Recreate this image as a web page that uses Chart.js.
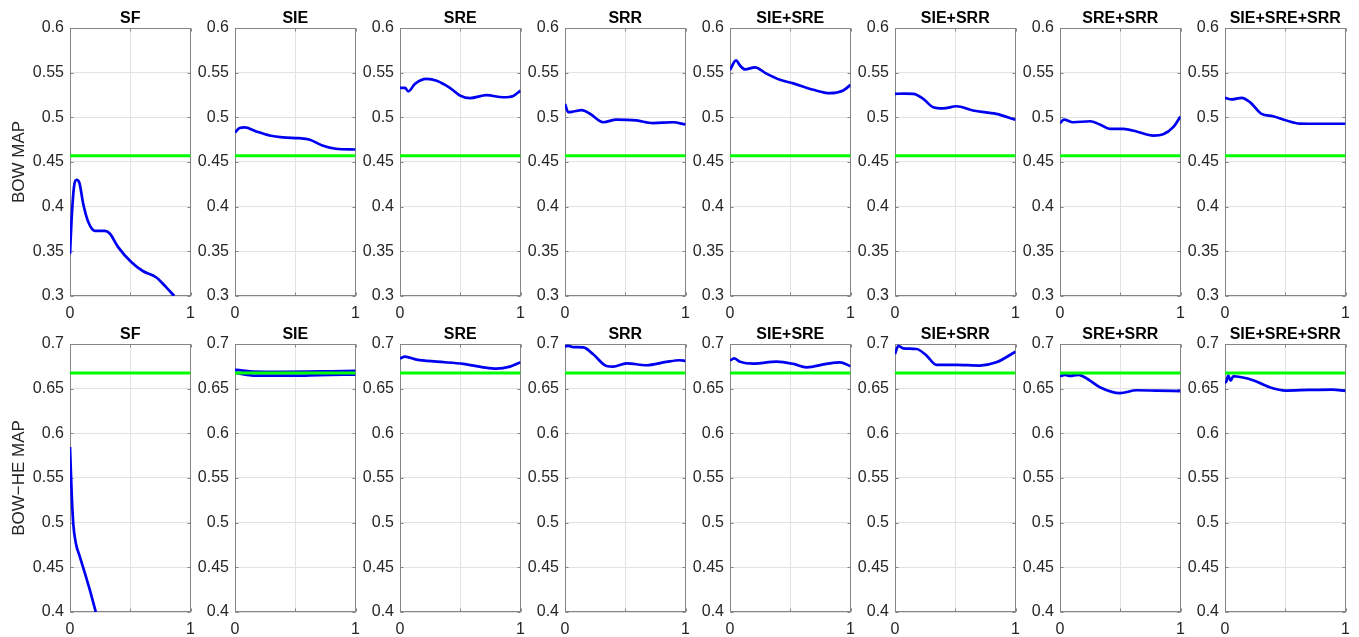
<!DOCTYPE html>
<html>
<head>
<meta charset="utf-8">
<script src="https://cdn.jsdelivr.net/npm/chart.js@4.4.1/dist/chart.umd.min.js"></script>
<style>
  html, body { margin:0; padding:0; background:#fff; }
  body { width:1359px; height:637px; position:relative; overflow:hidden; }
  canvas { position:absolute; }
</style>
</head>
<body>
<script>
// ---------- DATA ----------
const titles = ['SF','SIE','SRE','SRR','SIE+SRE','SIE+SRR','SRE+SRR','SIE+SRE+SRR'];
const rowLabels = ['BOW MAP','BOW\u2212HE MAP'];
const xTicks = [0, 0.5, 1];
const xTickLabels = ['0', '', '1'];
const yTicksTop = [0.3, 0.35, 0.4, 0.45, 0.5, 0.55, 0.6];
const yTicksBottom = [0.4, 0.45, 0.5, 0.55, 0.6, 0.65, 0.7];
const baselineTop = 0.457;
const baselineBottom = 0.6675;

// Top row (BOW MAP)
const topX_SF = [0,0.014,0.033,0.055,0.077,0.11,0.151,0.206,0.288,0.33,0.398,0.508,0.604,0.714,0.797,0.865];
const topY_SF = [0.347,0.388,0.422,0.430,0.427,0.403,0.383,0.373,0.373,0.370,0.355,0.338,0.328,0.321,0.310,0.300];
const topX_SIE = [0,0.038,0.08,0.176,0.286,0.396,0.533,0.615,0.725,0.835,1];
const topY_SIE = [0.483,0.488,0.4887,0.4842,0.4797,0.4775,0.4767,0.4752,0.4685,0.4648,0.464];
const topX_SRE = [0,0.041,0.069,0.124,0.221,0.304,0.414,0.497,0.58,0.718,0.856,0.939,1];
const topY_SRE = [0.533,0.533,0.529,0.5375,0.543,0.541,0.533,0.5245,0.5215,0.5248,0.5225,0.524,0.530];
const topX_SRR = [0,0.028,0.069,0.138,0.207,0.317,0.427,0.592,0.73,0.895,1];
const topY_SRR = [0.515,0.5057,0.5065,0.508,0.504,0.4945,0.4975,0.4965,0.4935,0.4945,0.492];
const topX_IE_RE = [0,0.05,0.083,0.124,0.207,0.304,0.414,0.525,0.691,0.829,0.939,1];
const topY_IE_RE = [0.553,0.5637,0.558,0.5536,0.556,0.5488,0.542,0.538,0.5308,0.527,0.530,0.5364];
const topX_IE_RR = [0,0.08,0.152,0.234,0.317,0.399,0.51,0.647,0.84,1];
const topY_IE_RR = [0.5263,0.5265,0.5263,0.5207,0.5113,0.510,0.5124,0.5076,0.5039,0.4972];
const topX_RE_RR = [0,0.033,0.11,0.249,0.331,0.414,0.525,0.635,0.773,0.856,0.939,1];
const topY_RE_RR = [0.4934,0.4975,0.4945,0.4956,0.492,0.4871,0.4871,0.4841,0.4796,0.481,0.489,0.501];
const topX_ALL = [0,0.055,0.138,0.207,0.303,0.399,0.51,0.62,0.785,1];
const topY_ALL = [0.5218,0.520,0.5218,0.517,0.5039,0.5012,0.4964,0.493,0.4928,0.4928];

// Bottom row (BOW-HE MAP)
const botX_SF = [0,0.014,0.027,0.049,0.082,0.124,0.165,0.214];
const botY_SF = [0.5846,0.5325,0.499,0.4767,0.4618,0.4432,0.4246,0.4];
const botX_SIE_a = [0,0.05,0.15,0.4,0.6,0.8,1];
const botY_SIE_a = [0.6712,0.6705,0.669,0.6688,0.669,0.6695,0.670];
const botX_SIE_b = [0,0.1,0.2,0.5,0.7,1];
const botY_SIE_b = [0.668,0.6655,0.6645,0.6645,0.6652,0.6658];
const botX_SRE = [0,0.041,0.138,0.304,0.525,0.691,0.801,0.912,1];
const botY_SRE = [0.6839,0.6858,0.6825,0.6802,0.6777,0.6739,0.6724,0.6747,0.6795];
const botX_SRR = [0,0.028,0.069,0.152,0.234,0.344,0.399,0.51,0.675,0.84,0.95,1];
const botY_SRR = [0.6973,0.698,0.6966,0.6962,0.6885,0.6754,0.6747,0.6784,0.6762,0.6799,0.6818,0.681];
const botX_IE_RE = [0,0.033,0.083,0.193,0.387,0.525,0.635,0.801,0.912,1];
const botY_IE_RE = [0.6814,0.6839,0.6802,0.678,0.6802,0.6777,0.6739,0.6777,0.6795,0.6751];
const botX_IE_RR = [0,0.028,0.069,0.179,0.262,0.344,0.51,0.702,0.84,1];
const botY_IE_RR = [0.6888,0.698,0.6951,0.6944,0.687,0.6766,0.6766,0.6759,0.6795,0.6914];
const botX_RE_RR = [0,0.041,0.083,0.152,0.249,0.331,0.497,0.635,0.801,1];
const botY_RE_RR = [0.6639,0.6654,0.6643,0.6654,0.659,0.6516,0.645,0.6482,0.6479,0.6472];
const botX_ALL = [0,0.008,0.027,0.047,0.068,0.137,0.233,0.37,0.507,0.699,0.89,1];
const botY_ALL = [0.659,0.6572,0.6646,0.659,0.6639,0.6628,0.6595,0.6516,0.6479,0.6486,0.649,0.6475];

// ---------- LAYOUT / STYLE ----------
const FONT = '"Liberation Sans", Arial, Helvetica, sans-serif';
const BLUE = '#0000f0';
const GREEN = '#00ff00';
const GRID = '#e2e2e2';
const AXIS = '#858585';
const TXT = '#262626';

const boxPlugin = {
  id: 'matlabBox',
  beforeDatasetsDraw(chart, args, opts) {
    const { ctx, chartArea: a } = chart;
    ctx.save();
    ctx.strokeStyle = AXIS;
    ctx.lineWidth = 1;
    const l = Math.round(a.left) + 0.5, r = Math.round(a.right) - 0.5;
    const t = Math.round(a.top) + 0.5, b = Math.round(a.bottom) - 0.5;
    ctx.strokeRect(l, t, r - l, b - t);
    const tl = 3;
    ctx.beginPath();
    chart.scales.y.ticks.forEach(tk => {
      const py = Math.round(chart.scales.y.getPixelForValue(tk.value)) + 0.5;
      ctx.moveTo(l, py); ctx.lineTo(l + tl, py);
      ctx.moveTo(r, py); ctx.lineTo(r - tl, py);
    });
    chart.scales.x.ticks.forEach(tk => {
      const px = Math.round(chart.scales.x.getPixelForValue(tk.value)) + 0.5;
      ctx.moveTo(px, b); ctx.lineTo(px, b - tl);
      ctx.moveTo(px, t); ctx.lineTo(px, t + tl);
    });
    ctx.stroke();
    ctx.restore();
  },
  afterDraw(chart, args, opts) {
    const { ctx, chartArea: a } = chart;
    ctx.save();
    ctx.fillStyle = '#000';
    ctx.font = 'bold 16px ' + FONT;
    ctx.textAlign = 'center';
    ctx.textBaseline = 'alphabetic';
    ctx.fillText(opts.title, (a.left + a.right) / 2, a.top - 5);
    if (opts.ylabel) {
      ctx.fillStyle = TXT;
      ctx.font = '17px ' + FONT;
      ctx.translate(19, (a.top + a.bottom) / 2);
      ctx.rotate(-Math.PI / 2);
      ctx.textBaseline = 'middle';
      ctx.fillText(opts.ylabel, 0, 0);
    }
    ctx.restore();
  }
};

function fmt(v) { return String(+Number(v).toFixed(2)); }

function makePanel(row, col, series) {
  const W = 121, H = 268;
  const L = 70 + col * 165;
  const T = row === 0 ? 28 : 344;
  const padL = col === 0 ? 70 : 50;
  const padT = row === 0 ? 28 : 26;
  const padR = 12;
  const padB = row === 0 ? 22 : 25;
  const cv = document.createElement('canvas');
  const cw = padL + W + padR, ch = padT + H + padB;
  cv.width = cw; cv.height = ch;
  cv.style.left = (L - padL) + 'px';
  cv.style.top = (T - padT) + 'px';
  cv.style.width = cw + 'px';
  cv.style.height = ch + 'px';
  document.body.appendChild(cv);

  const yTicks = row === 0 ? yTicksTop : yTicksBottom;
  const base = row === 0 ? baselineTop : baselineBottom;

  const datasets = [{
    data: [{ x: 0, y: base }, { x: 1, y: base }],
    borderColor: GREEN, borderWidth: 3, pointRadius: 0, fill: false
  }];
  series.forEach(s => {
    datasets.push({
      data: s[0].map((v, i) => ({ x: v, y: s[1][i] })),
      borderColor: BLUE, borderWidth: 2.7, pointRadius: 0, fill: false,
      cubicInterpolationMode: 'monotone'
    });
  });

  new Chart(cv, {
    type: 'line',
    data: { datasets },
    options: {
      responsive: false,
      devicePixelRatio: 1,
      animation: false,
      events: [],
      layout: { padding: { top: padT, right: padR, left: 0, bottom: 0 } },
      plugins: {
        legend: { display: false },
        tooltip: { enabled: false },
        title: { display: false },
        matlabBox: { title: titles[col], ylabel: col === 0 ? rowLabels[row] : null }
      },
      scales: {
        x: {
          type: 'linear', min: 0, max: 1,
          afterBuildTicks: s => { s.ticks = xTicks.map(v => ({ value: v })); },
          afterFit: s => { s.height = padB; },
          ticks: {
            callback: (v, i) => xTickLabels[i],
            font: { family: FONT, size: 16 }, color: TXT,
            padding: 8, maxRotation: 0, autoSkip: false
          },
          grid: { color: GRID, lineWidth: 1, drawTicks: false },
          border: { display: false }
        },
        y: {
          type: 'linear', min: yTicks[0], max: yTicks[yTicks.length - 1],
          afterBuildTicks: s => { s.ticks = yTicks.map(v => ({ value: v })); },
          afterFit: s => { s.width = padL; },
          ticks: {
            callback: v => fmt(v),
            font: { family: FONT, size: 16 }, color: TXT,
            padding: 6, autoSkip: false
          },
          grid: { color: GRID, lineWidth: 1, drawTicks: false },
          border: { display: false }
        }
      }
    },
    plugins: [boxPlugin]
  });
}

const topSeries = [
  [[topX_SF, topY_SF]],
  [[topX_SIE, topY_SIE]],
  [[topX_SRE, topY_SRE]],
  [[topX_SRR, topY_SRR]],
  [[topX_IE_RE, topY_IE_RE]],
  [[topX_IE_RR, topY_IE_RR]],
  [[topX_RE_RR, topY_RE_RR]],
  [[topX_ALL, topY_ALL]]
];
const botSeries = [
  [[botX_SF, botY_SF]],
  [[botX_SIE_a, botY_SIE_a], [botX_SIE_b, botY_SIE_b]],
  [[botX_SRE, botY_SRE]],
  [[botX_SRR, botY_SRR]],
  [[botX_IE_RE, botY_IE_RE]],
  [[botX_IE_RR, botY_IE_RR]],
  [[botX_RE_RR, botY_RE_RR]],
  [[botX_ALL, botY_ALL]]
];
topSeries.forEach((s, c) => makePanel(0, c, s));
botSeries.forEach((s, c) => makePanel(1, c, s));
</script>
</body>
</html>
